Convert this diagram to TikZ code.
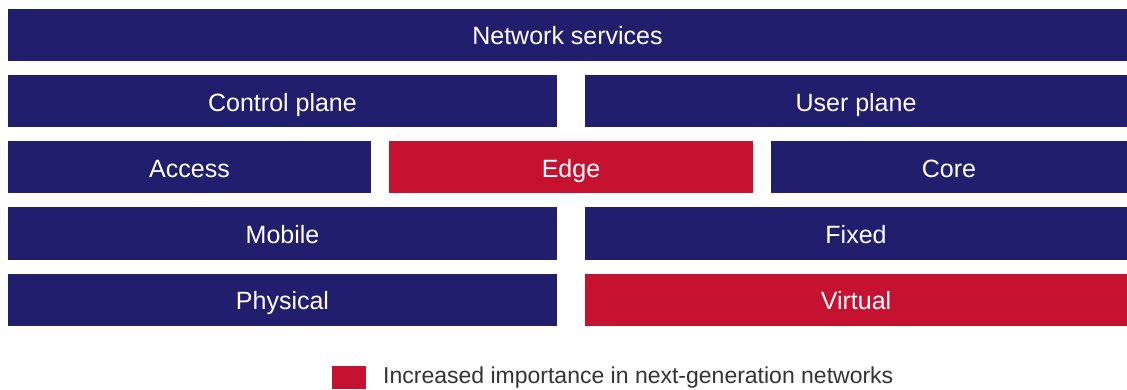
\documentclass[tikz,border=0pt]{standalone}
\usepackage{fontspec}
\setmainfont{Liberation Sans}
\definecolor{navy}{RGB}{34,30,110}
\definecolor{nextred}{RGB}{196,18,48}
\definecolor{legendgray}{RGB}{51,51,51}

\begin{document}
\begin{tikzpicture}[x=1pt, y=1pt,
  every node/.style={inner sep=0pt, font=\fontsize{25}{30}\selectfont},
  layer/.style={rectangle, fill=navy, text=white, minimum height=52pt,
    text height=24pt, text depth=4pt},
  hot/.style={layer, fill=nextred}]
  \useasboundingbox (0,0) rectangle (1127,-390);
  % top row
  \node[layer, minimum width=1119pt] (services) at (567.5,-35) {Network services};
  % control / user
  \node[layer, minimum width=549pt] (control) at (282.5,-101.5) {Control plane};
  \node[layer, minimum width=542pt] (user) at (856,-101.5) {User plane};
  % access / edge / core
  \node[layer, minimum width=363pt] (access) at (189.5,-167.5) {Access};
  \node[hot, minimum width=364pt] (edge) at (571,-167.5) {Edge};
  \node[layer, minimum width=356pt] (core) at (949,-167.5) {Core};
  % mobile / fixed
  \node[layer, minimum width=549pt] (mobile) at (282.5,-233.5) {Mobile};
  \node[layer, minimum width=542pt] (fixed) at (856,-233.5) {Fixed};
  % physical / virtual
  \node[layer, minimum width=549pt] (physical) at (282.5,-299.5) {Physical};
  \node[hot, minimum width=542pt] (virtual) at (856,-299.5) {Virtual};
  % legend
  \node[fill=nextred, minimum width=34pt, minimum height=23pt] (key) at (349,-377.5) {};
  \node[anchor=west, text=legendgray, font=\fontsize{23}{27}\selectfont] (keytext) at (383,-378) {Increased importance in next-generation networks};
\end{tikzpicture}
\end{document}
